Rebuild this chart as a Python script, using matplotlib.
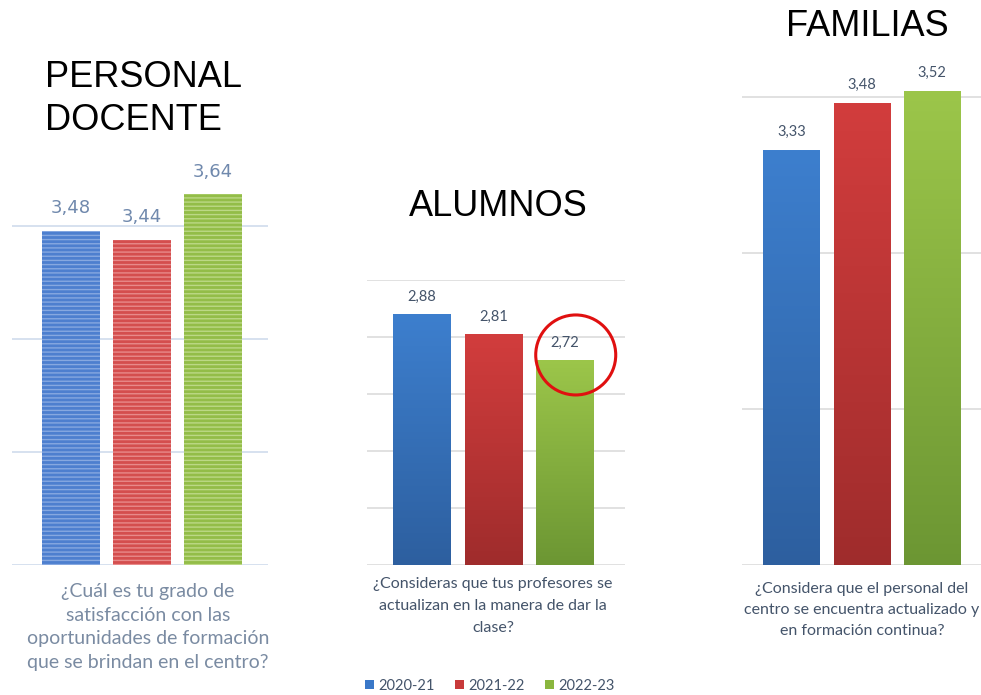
import matplotlib
matplotlib.use('Agg')
import matplotlib.pyplot as plt
import numpy as np
from matplotlib.patches import Patch, Ellipse
from matplotlib.colors import LinearSegmentedColormap

# ---------------- data ----------------
categories = ['2020-21', '2021-22', '2022-23']
docentes = [3.48, 3.44, 3.64]
alumnos = [2.88, 2.81, 2.72]
familias = [3.33, 3.48, 3.52]

title_docentes = 'PERSONAL\nDOCENTE'
title_alumnos = 'ALUMNOS'
title_familias = 'FAMILIAS'
q_docentes = '¿Cuál es tu grado de\nsatisfacción con las\noportunidades de formación\nque se brindan en el centro?'
q_alumnos = '¿Consideras que tus profesores se\nactualizan en la manera de dar la\nclase?'
q_familias = '¿Considera que el personal del\ncentro se encuentra actualizado y\nen formación continua?'

# ---------------- style ----------------
W, H = 981, 695
fig = plt.figure(figsize=(W / 100, H / 100), dpi=100)
fig.patch.set_facecolor('white')

legend_cols = ['#3a78c8', '#c83a3a', '#8ab63e']
flat_cols = ['#4d7fcf', '#d44e4e', '#93bd48']
stripe_cols = ['#86a8e0', '#e88a8a', '#bcd886']
grad_tops = ['#3d7fce', '#d23d3d', '#9cc64a']
grad_bots = ['#2d5f9f', '#9f2c2c', '#6c9633']


def ax_px(x0, x1, ybot, ytop):
    return fig.add_axes([x0 / W, 1 - ybot / H, (x1 - x0) / W, (ybot - ytop) / H])


def fmt(v):
    return f'{v:.2f}'.replace('.', ',')


def setup(ax, xlim, ylim, yticks, gridcol):
    ax.set_xlim(*xlim)
    ax.set_ylim(*ylim)
    ax.set_yticks(yticks)
    ax.set_xticks([])
    ax.tick_params(left=False, labelleft=False)
    for s in ax.spines.values():
        s.set_visible(False)
    ax.set_axisbelow(True)
    ax.grid(axis='y', color=gridcol, linewidth=1.2)
    ax.patch.set_alpha(0)


x = np.arange(len(categories))

# ---------- Panel 1: PERSONAL DOCENTE ----------
ax1 = ax_px(12, 268, 565, 169.5)
plt.rcParams['hatch.linewidth'] = 1.0
for i, v in enumerate(docentes):
    plt.rcParams['hatch.color'] = stripe_cols[i]
    ax1.bar(x[i], v - 2, bottom=2, width=0.82, color=flat_cols[i],
            hatch='----', edgecolor=stripe_cols[i], linewidth=0)
    ax1.text(x[i], v + 0.06, fmt(v), ha='center', va='bottom',
             fontsize=13, color='#7089ad', family='DejaVu Sans')
setup(ax1, (-0.834, 2.784), (2, 3.75), [2, 2.5, 3, 3.5], '#cfdcec')


# ---------- gradient bars helper ----------
def grad_bars(ax, vals, width):
    for i, v in enumerate(vals):
        bars = ax.bar(x[i], v - 2, bottom=2, width=width, color=grad_tops[i], linewidth=0)
        rect = bars[0]
        cmap = LinearSegmentedColormap.from_list('g', [grad_tops[i], grad_bots[i]])
        im = ax.imshow(np.linspace(0, 1, 256).reshape(-1, 1), cmap=cmap, aspect='auto',
                       extent=[x[i] - width / 2, x[i] + width / 2, 2, v], zorder=2.5)
        im.set_clip_path(rect)


# ---------- Panel 2: ALUMNOS ----------
ax2 = ax_px(367, 625, 565, 280)
grad_bars(ax2, alumnos, 0.81)
for i, v in enumerate(alumnos):
    ax2.text(x[i], v + 0.035, fmt(v), ha='center', va='bottom',
             fontsize=10.5, color='#44546a', family='Lato')
setup(ax2, (-0.769, 2.839), (2, 3.0), [2, 2.2, 2.4, 2.6, 2.8, 3.0], '#dcdcdc')
# highlight circle around the last value
ax2.add_patch(Ellipse((x[2] + 0.15, alumnos[2] + 0.017), 80 / 71.5, 80 / 285,
                      fill=False, edgecolor='#e01010', linewidth=2.2, zorder=5,
                      clip_on=False))

# ---------- Panel 3: FAMILIAS ----------
ax3 = ax_px(742, 981, 565, 65.8)
grad_bars(ax3, familias, 0.81)
for i, v in enumerate(familias):
    ax3.text(x[i], v + 0.035, fmt(v), ha='center', va='bottom',
             fontsize=10.5, color='#44546a', family='Lato')
setup(ax3, (-0.708, 2.694), (2, 3.6), [2, 2.5, 3, 3.5], '#dcdcdc')

# ---------------- titles ----------------
fig.text(45 / W, 1 - 60 / H, title_docentes, ha='left', va='top', fontsize=26,
         family='Liberation Sans', color='black', linespacing=1.28)
fig.text(498 / W, 1 - 207 / H, title_alumnos, ha='center', va='center', fontsize=26,
         family='Liberation Sans', color='black')
fig.text(867 / W, 1 - 27 / H, title_familias, ha='center', va='center', fontsize=26,
         family='Liberation Sans', color='black')

# ---------------- questions ----------------
fig.text(148 / W, 1 - 583 / H, q_docentes, ha='center', va='top', fontsize=14,
         family='Lato', color='#7a8ba2', linespacing=1.48)
fig.text(493 / W, 1 - 577 / H, q_alumnos, ha='center', va='top', fontsize=11.5,
         family='Lato', color='#44546a', linespacing=1.75)
fig.text(862 / W, 1 - 582 / H, q_familias, ha='center', va='top', fontsize=11.5,
         family='Lato', color='#44546a', linespacing=1.65)

# ---------------- legend ----------------
handles = [Patch(facecolor=c, edgecolor='none', label=l) for c, l in zip(legend_cols, categories)]
leg = fig.legend(handles=handles, loc='center', bbox_to_anchor=(490 / W, 1 - 686 / H), ncol=3,
                 frameon=False, handlelength=0.6, handleheight=0.6, handletextpad=0.3,
                 columnspacing=1.4, prop={'family': 'Lato', 'size': 10.5})
for t in leg.get_texts():
    t.set_color('#44546a')

fig.savefig('out.png', dpi=100, facecolor='white')
